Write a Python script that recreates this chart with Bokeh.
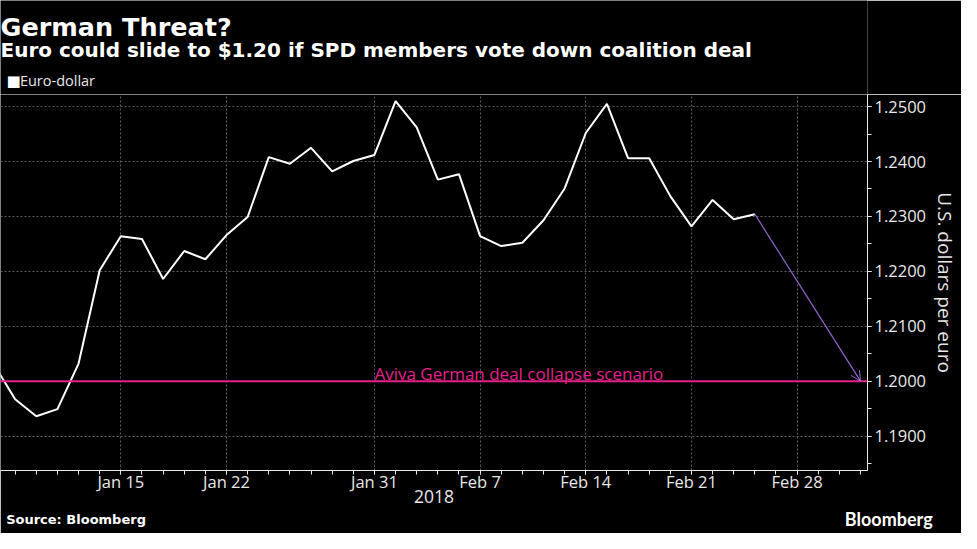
import numpy as np
from bokeh.plotting import figure
from bokeh.layouts import column
from bokeh.models import (Label, Span, Arrow, OpenHead, FixedTicker,
                          PrintfTickFormatter, Range1d, LinearAxis)
from bokeh.embed import file_html
from bokeh.resources import INLINE

# ---------------- data ----------------
dates = ["2018-01-05", "2018-01-08", "2018-01-09", "2018-01-10", "2018-01-11",
         "2018-01-12", "2018-01-15", "2018-01-16", "2018-01-17", "2018-01-18",
         "2018-01-19", "2018-01-22", "2018-01-23", "2018-01-24", "2018-01-25",
         "2018-01-26", "2018-01-29", "2018-01-30", "2018-01-31", "2018-02-01",
         "2018-02-02", "2018-02-05", "2018-02-06", "2018-02-07", "2018-02-08",
         "2018-02-09", "2018-02-12", "2018-02-13", "2018-02-14", "2018-02-15",
         "2018-02-16", "2018-02-19", "2018-02-20", "2018-02-21", "2018-02-22",
         "2018-02-23", "2018-02-26"]
eurusd = [1.2030, 1.1967, 1.1936, 1.1949, 1.2032,
          1.2202, 1.2264, 1.2259, 1.2186, 1.2237,
          1.2222, 1.2266, 1.2299, 1.2408, 1.2396,
          1.2425, 1.2382, 1.2401, 1.2412, 1.2510,
          1.2462, 1.2367, 1.2377, 1.2264, 1.2246,
          1.2252, 1.2293, 1.2351, 1.2452, 1.2505,
          1.2406, 1.2406, 1.2337, 1.2282, 1.2330,
          1.2295, 1.2304]

scenario_dates = ["2018-02-26", "2018-03-05"]
scenario_values = [1.2304, 1.2000]
scenario_level = 1.2000
scenario_text = "Aviva German deal collapse scenario"

tick_dates = ["2018-01-15", "2018-01-22", "2018-01-31", "2018-02-07",
              "2018-02-14", "2018-02-21", "2018-02-28"]
tick_labels = ["Jan 15", "Jan 22", "Jan 31", "Feb 7", "Feb 14", "Feb 21", "Feb 28"]
y_ticks = [1.19, 1.20, 1.21, 1.22, 1.23, 1.24, 1.25]

title = "German Threat?"
subtitle = "Euro could slide to $1.20 if SPD members vote down coalition deal"
series_name = "Euro-dollar"
y_label = "U.S. dollars per euro"
year_label = "2018"
source = "Source: Bloomberg"
brand = "Bloomberg"

# ---------------- layout constants ----------------
start = dates[0]


def tday(d):
    """trading-day index counted from the first date"""
    return int(np.busday_count(start, d))


xs = [tday(d) for d in dates]
major_x = [tday(d) for d in tick_dates]
last_day = tday(scenario_dates[-1])
minor_x = list(range(1, last_day + 1))

W = 961
HEAD_H = 94
FRAME_H = 376
MAIN_H = 533 - HEAD_H
BOTTOM_B = MAIN_H - FRAME_H
RIGHT_B = 89
FRAME_W = W - RIGHT_B
X0, X1 = 0.306, 41.33


def px_to_x(px):
    return X0 + px * (X1 - X0) / FRAME_W


YEAR_POS = px_to_x(436)
SOURCE_POS = px_to_x(76)
BRAND_POS = X1 - 0.03
NB = "\u00a0"

WHITE = "#ffffff"
LIGHT = "#e8e8e8"
GRID = "#5c5c5c"
MAGENTA = "#e5218c"
PURPLE = "#9466cf"
BG = "black"


def put(f, text, x, y, size, bold=False, color=WHITE, font="DejaVu Sans"):
    f.add_layout(Label(x=x, y=y, text=text, text_font=font,
                       text_font_size=size,
                       text_font_style="bold" if bold else "normal",
                       text_color=color, text_align="left",
                       text_baseline="alphabetic"))


# ---------------- header ----------------
head = figure(width=W, height=HEAD_H, output_backend="svg",
              toolbar_location=None,
              x_range=Range1d(0, FRAME_W), y_range=Range1d(HEAD_H, 0),
              x_axis_type=None, y_axis_type=None,
              background_fill_color=BG, border_fill_color=BG,
              outline_line_color=None,
              min_border_left=0, min_border_right=RIGHT_B,
              min_border_top=0, min_border_bottom=0)
head.xgrid.visible = False
head.ygrid.visible = False
put(head, title, 0, 26.5, "25.5px", bold=True)
put(head, subtitle, 0, 49.5, "20px", bold=True)
put(head, "\u25A0", 6, 80.5, "15px", color=WHITE)
put(head, series_name, 19.5, 80, "14.5px", color=LIGHT, font="Open Sans")

# ---------------- main chart ----------------
p = figure(width=W, height=MAIN_H, output_backend="svg", toolbar_location=None,
           x_range=Range1d(X0, X1), y_range=Range1d(1.18372, 1.25221),
           y_axis_location="right",
           background_fill_color=BG, border_fill_color=BG,
           outline_line_color=None,
           min_border_left=0, min_border_right=RIGHT_B,
           min_border_top=0, min_border_bottom=BOTTOM_B)

p.xgrid.ticker = FixedTicker(ticks=major_x)
p.ygrid.ticker = FixedTicker(ticks=y_ticks)
for g in (p.xgrid, p.ygrid):
    g.grid_line_color = GRID
    g.grid_line_dash = "2 2"
    g.grid_line_width = 1

xa = p.xaxis[0]
xa.ticker = FixedTicker(ticks=major_x, minor_ticks=minor_x)
xa.major_label_overrides = {t: l for t, l in zip(major_x, tick_labels)}
xa.axis_line_color = LIGHT
xa.major_tick_line_color = LIGHT
xa.minor_tick_line_color = LIGHT
xa.major_tick_in = 0
xa.major_tick_out = 4
xa.minor_tick_in = 0
xa.minor_tick_out = 4
xa.major_label_standoff = -5
xa.major_label_text_color = LIGHT
xa.major_label_text_font = "Open Sans"
xa.major_label_text_font_size = "16.5px"


def text_axis(pos, text, standoff, font, size, bold=False, color=LIGHT):
    ax = LinearAxis(ticker=FixedTicker(ticks=[pos]),
                    major_label_overrides={pos: text},
                    axis_line_color=None, major_tick_line_color=None,
                    minor_tick_line_color=None,
                    major_tick_in=0, major_tick_out=0,
                    major_label_standoff=standoff,
                    major_label_text_color=color,
                    major_label_text_font=font,
                    major_label_text_font_style="bold" if bold else "normal",
                    major_label_text_font_size=size)
    p.add_layout(ax, "below")


text_axis(YEAR_POS, year_label, -6, "Open Sans", "17.5px")
text_axis(SOURCE_POS, source, 6, "DejaVu Sans", "13px", bold=True,
          color=WHITE)
text_axis(BRAND_POS, NB * 10 + brand, -22, "Lato", "18px", bold=True,
          color=WHITE)

ya = p.yaxis[0]
ya.ticker = FixedTicker(ticks=y_ticks,
                        minor_ticks=list(np.arange(1.185, 1.2526, 0.005)))
ya.formatter = PrintfTickFormatter(format="%.4f")
ya.axis_line_color = LIGHT
ya.major_tick_line_color = LIGHT
ya.minor_tick_line_color = LIGHT
ya.major_tick_in = 0
ya.major_tick_out = 4
ya.minor_tick_in = 0
ya.minor_tick_out = 4
ya.major_label_standoff = 3
ya.major_label_text_color = LIGHT
ya.major_label_text_font = "Open Sans"
ya.major_label_text_font_size = "16.5px"
ya.axis_label = y_label
ya.axis_label_text_color = LIGHT
ya.axis_label_text_font = "Open Sans"
ya.axis_label_text_font_size = "19px"
ya.axis_label_text_font_style = "normal"
ya.axis_label_standoff = 3

p.add_layout(Span(location=scenario_level, dimension="width",
                  line_color=MAGENTA, line_width=2))
p.add_layout(Label(x=tday("2018-01-31"), y=scenario_level, text=scenario_text,
                   text_color=MAGENTA, text_font="Open Sans",
                   text_font_size="17px", text_baseline="alphabetic",
                   y_offset=8))

p.line(xs, eurusd, line_color=WHITE, line_width=2)

p.add_layout(Arrow(end=OpenHead(size=10, line_color=PURPLE, line_width=1),
                   x_start=tday(scenario_dates[0]), y_start=scenario_values[0],
                   x_end=tday(scenario_dates[1]), y_end=scenario_values[1],
                   line_color=PURPLE, line_width=1.2))

layout = column(head, p, spacing=0)
open("out.html", "w").write(file_html(layout, INLINE))
